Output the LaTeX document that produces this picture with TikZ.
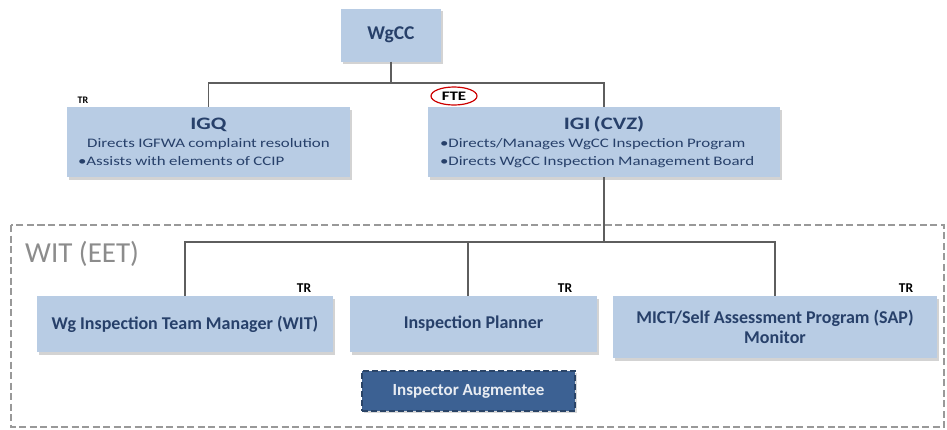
\documentclass[tikz,border=0pt]{standalone}
\usepackage{fontspec}
\setmainfont{Carlito}
\newfontfamily\widefont{Carlito}[FakeStretch=1.3]
\usetikzlibrary{shadows,shapes.geometric}

\definecolor{boxblue}{HTML}{B8CCE4}
\definecolor{inkblue}{HTML}{27406A}
\definecolor{augblue}{HTML}{3C6193}
\definecolor{linegray}{HTML}{5E5E5E}

\tikzset{
  unit/.style={fill=boxblue, text=inkblue, align=center, inner sep=0pt,
    drop shadow={shadow xshift=1.5pt, shadow yshift=-2.5pt, opacity=0.35}},
  tag/.style={font=\bfseries\fontsize{13.5}{15}\selectfont, inner sep=1pt},
  link/.style={draw=linegray, line width=1.1pt}
}
\newcommand{\titlefont}{\bfseries\fontsize{18}{20}\selectfont}
\newcommand{\headfont}{\widefont\bfseries\fontsize{17.5}{20}\selectfont}
\newcommand{\bodyfont}{\widefont\fontsize{13}{18}\selectfont}

\begin{document}
\begin{tikzpicture}[x=1pt,y=-1pt]
    \useasboundingbox (0,0) rectangle (947,429);

    % WIT (EET) frame
    \draw[gray!80, line width=1.9pt, dash pattern=on 7pt off 3.5pt] (11,225) rectangle (944,427);
    \node[anchor=base west, text=gray!90, font=\fontsize{29}{32}\selectfont, inner sep=0pt] (witlabel) at (25,262) {WIT (EET)};

    % top level
    \node[unit, minimum width=100, minimum height=53, font=\bfseries\fontsize{19.5}{22}\selectfont] (wgcc) at (391,35) {WgCC};

    \node[unit, align=left, inner xsep=11pt, text width=261, minimum height=70] (igq) at (208.5,142)
        {{\headfont\centering IGQ\par}
         {\bodyfont\centering Directs IGFWA complaint resolution\par}
         {\bodyfont •Assists with elements of CCIP\par}};
    \node[tag, font=\bfseries\fontsize{10}{12}\selectfont] (igqtr) at (83,100) {TR};

    \node[unit, align=left, inner xsep=12pt, text width=328, minimum height=70] (igi) at (604,142)
        {{\headfont\centering IGI (CVZ)\par}
         {\bodyfont •Directs/Manages WgCC Inspection Program\par}
         {\bodyfont •Directs WgCC Inspection Management Board\par}};
    \node[tag, font=\widefont\bfseries\fontsize{13}{15}\selectfont, draw=red!80!black, line width=1.2pt,
          ellipse, minimum width=46, minimum height=18, inner sep=0pt] (igifte) at (454,96) {FTE};

    % inspection team
    \node[unit, minimum width=296, minimum height=56, font=\titlefont] (manager) at (185,324) {Wg Inspection Team Manager (WIT)};
    \node[tag] (managertr) at (304,288) {TR};

    \node[unit, minimum width=247, minimum height=56, font=\titlefont] (planner) at (473.5,324) {Inspection Planner};
    \node[tag] (plannertr) at (565,288) {TR};

    \node[unit, minimum width=324, minimum height=62, font=\titlefont] (monitor) at (775,327)
        {MICT/Self Assessment Program (SAP)\\Monitor};
    \node[tag] (monitortr) at (906,288) {TR};

    \node[fill=augblue, draw=augblue!70!black, line width=1.5pt, dash pattern=on 6pt off 3pt,
          text=white!88!augblue, minimum width=213, minimum height=40, inner sep=0pt,
          font=\bfseries\fontsize{17}{20}\selectfont,
          drop shadow={shadow xshift=1.5pt, shadow yshift=-2pt, opacity=0.3}] (augmentee) at (468.5,391) {Inspector Augmentee};

    % connectors
    \coordinate (topbar) at (391,83);
    \coordinate (teambar) at (603,242);
    \draw[link] (wgcc.south) -- (wgcc.south |- topbar);
    \draw[link] (igq.north) -- (igq.north |- topbar) -- (igi.north |- topbar) -- (igi.north);
    \draw[link] (igi.south) -- (igi.south |- teambar);
    \draw[link] (manager.north) -- (manager.north |- teambar) -- (monitor.north |- teambar) -- (monitor.north);
    \draw[link] ([xshift=-5.5pt]planner.north) -- ([xshift=-5.5pt]planner.north |- teambar);
\end{tikzpicture}
\end{document}
